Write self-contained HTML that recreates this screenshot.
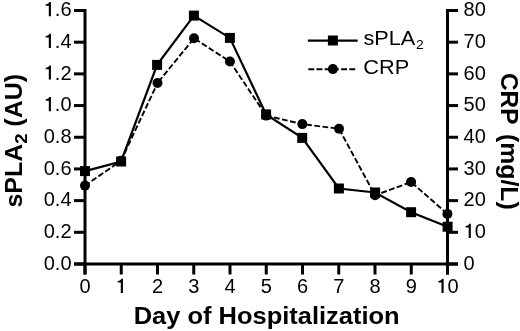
<!DOCTYPE html><html><head><meta charset="utf-8"><style>html,body{margin:0;padding:0;background:#fff;}svg{display:block;will-change:transform;}text{font-family:"Liberation Sans",sans-serif;fill:#000;}</style></head><body>
<svg width="520" height="331" viewBox="0 0 520 331">
<rect width="520" height="331" fill="#fff"/>
<line x1="85.0" y1="9.0" x2="85.0" y2="274.5" stroke="#000" stroke-width="3.0"/>
<line x1="447.5" y1="9.0" x2="447.5" y2="274.5" stroke="#000" stroke-width="3.0"/>
<line x1="74" y1="264.0" x2="458" y2="264.0" stroke="#000" stroke-width="3.0"/>
<line x1="74" y1="264.00" x2="85.0" y2="264.00" stroke="#000" stroke-width="3.0"/>
<line x1="447.5" y1="264.00" x2="458" y2="264.00" stroke="#000" stroke-width="3.0"/>
<text x="43.70" y="269.70" font-size="20">0</text><text x="54.82" y="269.70" font-size="20">.</text><text x="60.38" y="269.70" font-size="20">0</text>
<text x="463.60" y="269.70" font-size="20">0</text>
<line x1="74" y1="232.31" x2="85.0" y2="232.31" stroke="#000" stroke-width="3.0"/>
<line x1="447.5" y1="232.31" x2="458" y2="232.31" stroke="#000" stroke-width="3.0"/>
<text x="43.70" y="238.01" font-size="20">0</text><text x="54.82" y="238.01" font-size="20">.</text><text x="60.38" y="238.01" font-size="20">2</text>
<path transform="translate(463.60,238.01) scale(0.0200,-0.0200)" d="M255,0 L362,0 L362,709 L278,709 C262,640 205,602 100,597 L100,522 L255,522 Z"/><text x="474.72" y="238.01" font-size="20">0</text>
<line x1="74" y1="200.62" x2="85.0" y2="200.62" stroke="#000" stroke-width="3.0"/>
<line x1="447.5" y1="200.62" x2="458" y2="200.62" stroke="#000" stroke-width="3.0"/>
<text x="43.70" y="206.32" font-size="20">0</text><text x="54.82" y="206.32" font-size="20">.</text><text x="60.38" y="206.32" font-size="20">4</text>
<text x="463.60" y="206.32" font-size="20">2</text><text x="474.72" y="206.32" font-size="20">0</text>
<line x1="74" y1="168.94" x2="85.0" y2="168.94" stroke="#000" stroke-width="3.0"/>
<line x1="447.5" y1="168.94" x2="458" y2="168.94" stroke="#000" stroke-width="3.0"/>
<text x="43.70" y="174.64" font-size="20">0</text><text x="54.82" y="174.64" font-size="20">.</text><text x="60.38" y="174.64" font-size="20">6</text>
<text x="463.60" y="174.64" font-size="20">3</text><text x="474.72" y="174.64" font-size="20">0</text>
<line x1="74" y1="137.25" x2="85.0" y2="137.25" stroke="#000" stroke-width="3.0"/>
<line x1="447.5" y1="137.25" x2="458" y2="137.25" stroke="#000" stroke-width="3.0"/>
<text x="43.70" y="142.95" font-size="20">0</text><text x="54.82" y="142.95" font-size="20">.</text><text x="60.38" y="142.95" font-size="20">8</text>
<text x="463.60" y="142.95" font-size="20">4</text><text x="474.72" y="142.95" font-size="20">0</text>
<line x1="74" y1="105.56" x2="85.0" y2="105.56" stroke="#000" stroke-width="3.0"/>
<line x1="447.5" y1="105.56" x2="458" y2="105.56" stroke="#000" stroke-width="3.0"/>
<path transform="translate(43.70,111.26) scale(0.0200,-0.0200)" d="M255,0 L362,0 L362,709 L278,709 C262,640 205,602 100,597 L100,522 L255,522 Z"/><text x="54.82" y="111.26" font-size="20">.</text><text x="60.38" y="111.26" font-size="20">0</text>
<text x="463.60" y="111.26" font-size="20">5</text><text x="474.72" y="111.26" font-size="20">0</text>
<line x1="74" y1="73.87" x2="85.0" y2="73.87" stroke="#000" stroke-width="3.0"/>
<line x1="447.5" y1="73.87" x2="458" y2="73.87" stroke="#000" stroke-width="3.0"/>
<path transform="translate(43.70,79.57) scale(0.0200,-0.0200)" d="M255,0 L362,0 L362,709 L278,709 C262,640 205,602 100,597 L100,522 L255,522 Z"/><text x="54.82" y="79.57" font-size="20">.</text><text x="60.38" y="79.57" font-size="20">2</text>
<text x="463.60" y="79.57" font-size="20">6</text><text x="474.72" y="79.57" font-size="20">0</text>
<line x1="74" y1="42.19" x2="85.0" y2="42.19" stroke="#000" stroke-width="3.0"/>
<line x1="447.5" y1="42.19" x2="458" y2="42.19" stroke="#000" stroke-width="3.0"/>
<path transform="translate(43.70,47.89) scale(0.0200,-0.0200)" d="M255,0 L362,0 L362,709 L278,709 C262,640 205,602 100,597 L100,522 L255,522 Z"/><text x="54.82" y="47.89" font-size="20">.</text><text x="60.38" y="47.89" font-size="20">4</text>
<text x="463.60" y="47.89" font-size="20">7</text><text x="474.72" y="47.89" font-size="20">0</text>
<line x1="74" y1="10.50" x2="85.0" y2="10.50" stroke="#000" stroke-width="3.0"/>
<line x1="447.5" y1="10.50" x2="458" y2="10.50" stroke="#000" stroke-width="3.0"/>
<path transform="translate(43.70,16.20) scale(0.0200,-0.0200)" d="M255,0 L362,0 L362,709 L278,709 C262,640 205,602 100,597 L100,522 L255,522 Z"/><text x="54.82" y="16.20" font-size="20">.</text><text x="60.38" y="16.20" font-size="20">6</text>
<text x="463.60" y="16.20" font-size="20">8</text><text x="474.72" y="16.20" font-size="20">0</text>
<line x1="85.00" y1="264.0" x2="85.00" y2="274.5" stroke="#000" stroke-width="3.0"/>
<text x="79.44" y="293.00" font-size="20">0</text>
<line x1="121.25" y1="264.0" x2="121.25" y2="274.5" stroke="#000" stroke-width="3.0"/>
<path transform="translate(115.69,293.00) scale(0.0200,-0.0200)" d="M255,0 L362,0 L362,709 L278,709 C262,640 205,602 100,597 L100,522 L255,522 Z"/>
<line x1="157.50" y1="264.0" x2="157.50" y2="274.5" stroke="#000" stroke-width="3.0"/>
<text x="151.94" y="293.00" font-size="20">2</text>
<line x1="193.75" y1="264.0" x2="193.75" y2="274.5" stroke="#000" stroke-width="3.0"/>
<text x="188.19" y="293.00" font-size="20">3</text>
<line x1="230.00" y1="264.0" x2="230.00" y2="274.5" stroke="#000" stroke-width="3.0"/>
<text x="224.44" y="293.00" font-size="20">4</text>
<line x1="266.25" y1="264.0" x2="266.25" y2="274.5" stroke="#000" stroke-width="3.0"/>
<text x="260.69" y="293.00" font-size="20">5</text>
<line x1="302.50" y1="264.0" x2="302.50" y2="274.5" stroke="#000" stroke-width="3.0"/>
<text x="296.94" y="293.00" font-size="20">6</text>
<line x1="338.75" y1="264.0" x2="338.75" y2="274.5" stroke="#000" stroke-width="3.0"/>
<text x="333.19" y="293.00" font-size="20">7</text>
<line x1="375.00" y1="264.0" x2="375.00" y2="274.5" stroke="#000" stroke-width="3.0"/>
<text x="369.44" y="293.00" font-size="20">8</text>
<line x1="411.25" y1="264.0" x2="411.25" y2="274.5" stroke="#000" stroke-width="3.0"/>
<text x="405.69" y="293.00" font-size="20">9</text>
<line x1="447.50" y1="264.0" x2="447.50" y2="274.5" stroke="#000" stroke-width="3.0"/>
<path transform="translate(436.38,293.00) scale(0.0200,-0.0200)" d="M255,0 L362,0 L362,709 L278,709 C262,640 205,602 100,597 L100,522 L255,522 Z"/><text x="447.50" y="293.00" font-size="20">0</text>
<line x1="85.0" y1="185.6" x2="121.0" y2="160.8" stroke="#000" stroke-width="1.9" stroke-dasharray="5.8 2.45" stroke-dashoffset="0.2"/>
<line x1="121.0" y1="160.8" x2="157.5" y2="83.0" stroke="#000" stroke-width="1.9" stroke-dasharray="5.8 2.45" stroke-dashoffset="0"/>
<line x1="157.5" y1="83.0" x2="194.0" y2="38.3" stroke="#000" stroke-width="1.9" stroke-dasharray="5.8 2.45" stroke-dashoffset="-1.6"/>
<line x1="194.0" y1="38.3" x2="229.9" y2="61.5" stroke="#000" stroke-width="1.9" stroke-dasharray="5.8 2.45" stroke-dashoffset="-1.1"/>
<line x1="229.9" y1="61.5" x2="266.2" y2="115.6" stroke="#000" stroke-width="1.9" stroke-dasharray="5.8 2.45" stroke-dashoffset="0.35"/>
<line x1="266.2" y1="115.6" x2="302.3" y2="124.1" stroke="#000" stroke-width="1.9" stroke-dasharray="5.8 2.45" stroke-dashoffset="0.3"/>
<line x1="302.3" y1="124.1" x2="339.0" y2="128.7" stroke="#000" stroke-width="1.9" stroke-dasharray="5.8 2.45" stroke-dashoffset="-3.8"/>
<line x1="339.0" y1="128.7" x2="375.1" y2="195.3" stroke="#000" stroke-width="1.9" stroke-dasharray="5.8 2.45" stroke-dashoffset="-0.45"/>
<line x1="375.1" y1="195.3" x2="411.1" y2="182.0" stroke="#000" stroke-width="1.9" stroke-dasharray="5.8 2.45" stroke-dashoffset="1.65"/>
<line x1="411.1" y1="182.0" x2="447.4" y2="213.9" stroke="#000" stroke-width="1.9" stroke-dasharray="5.8 2.45" stroke-dashoffset="-1.0"/>
<circle cx="85.0" cy="185.6" r="5" fill="#000"/>
<circle cx="121.0" cy="160.8" r="5" fill="#000"/>
<circle cx="157.5" cy="83.0" r="5" fill="#000"/>
<circle cx="194.0" cy="38.3" r="5" fill="#000"/>
<circle cx="229.9" cy="61.5" r="5" fill="#000"/>
<circle cx="266.2" cy="115.6" r="5" fill="#000"/>
<circle cx="302.3" cy="124.1" r="5" fill="#000"/>
<circle cx="339.0" cy="128.7" r="5" fill="#000"/>
<circle cx="375.1" cy="195.3" r="5" fill="#000"/>
<circle cx="411.1" cy="182.0" r="5" fill="#000"/>
<circle cx="447.4" cy="213.9" r="5" fill="#000"/>
<polyline points="85.0,171.1 121.1,161.5 157.1,64.9 193.9,15.6 229.9,37.9 266.1,114.4 302.2,137.9 338.9,188.5 375.1,192.5 411.1,212.2 447.6,226.7" fill="none" stroke="#000" stroke-width="2.2"/>
<rect x="80.0" y="166.1" width="10" height="10" fill="#000"/>
<rect x="116.1" y="156.5" width="10" height="10" fill="#000"/>
<rect x="152.1" y="59.900000000000006" width="10" height="10" fill="#000"/>
<rect x="188.9" y="10.6" width="10" height="10" fill="#000"/>
<rect x="224.9" y="32.9" width="10" height="10" fill="#000"/>
<rect x="261.1" y="109.4" width="10" height="10" fill="#000"/>
<rect x="297.2" y="132.9" width="10" height="10" fill="#000"/>
<rect x="333.9" y="183.5" width="10" height="10" fill="#000"/>
<rect x="370.1" y="187.5" width="10" height="10" fill="#000"/>
<rect x="406.1" y="207.2" width="10" height="10" fill="#000"/>
<rect x="442.6" y="221.7" width="10" height="10" fill="#000"/>
<line x1="307.8" y1="40.6" x2="357.7" y2="40.6" stroke="#000" stroke-width="2.2"/>
<rect x="327.9" y="35.5" width="10" height="10" fill="#000"/>
<text x="363.5" y="44.8" font-size="20" textLength="51.8" lengthAdjust="spacingAndGlyphs">sPLA</text>
<text x="416" y="48.6" font-size="12.5" textLength="7.7" lengthAdjust="spacingAndGlyphs">2</text>
<line x1="308.3" y1="69.3" x2="356" y2="69.3" stroke="#000" stroke-width="1.9" stroke-dasharray="5.9 2.3"/>
<circle cx="332.9" cy="69.1" r="5" fill="#000"/>
<text x="363.3" y="74.2" font-size="20" textLength="45.9" lengthAdjust="spacingAndGlyphs">CRP</text>
<text x="266.7" y="324" font-size="23" font-weight="bold" text-anchor="middle" textLength="266" lengthAdjust="spacingAndGlyphs">Day of Hospitalization</text>
<text transform="translate(22,140.7) rotate(-90)" font-size="23" font-weight="bold" text-anchor="middle" textLength="133.7" lengthAdjust="spacingAndGlyphs">sPLA<tspan font-size="17.2" dy="5.3">2</tspan><tspan dy="-5.3"> (AU)</tspan></text>
<text transform="translate(500.5,73) rotate(90)" font-size="23" font-weight="bold" textLength="51.5" lengthAdjust="spacingAndGlyphs">CRP</text>
<text transform="translate(500.5,134) rotate(90)" font-size="23" font-weight="bold" textLength="75.7" lengthAdjust="spacingAndGlyphs">(mg/L)</text>
</svg></body></html>
